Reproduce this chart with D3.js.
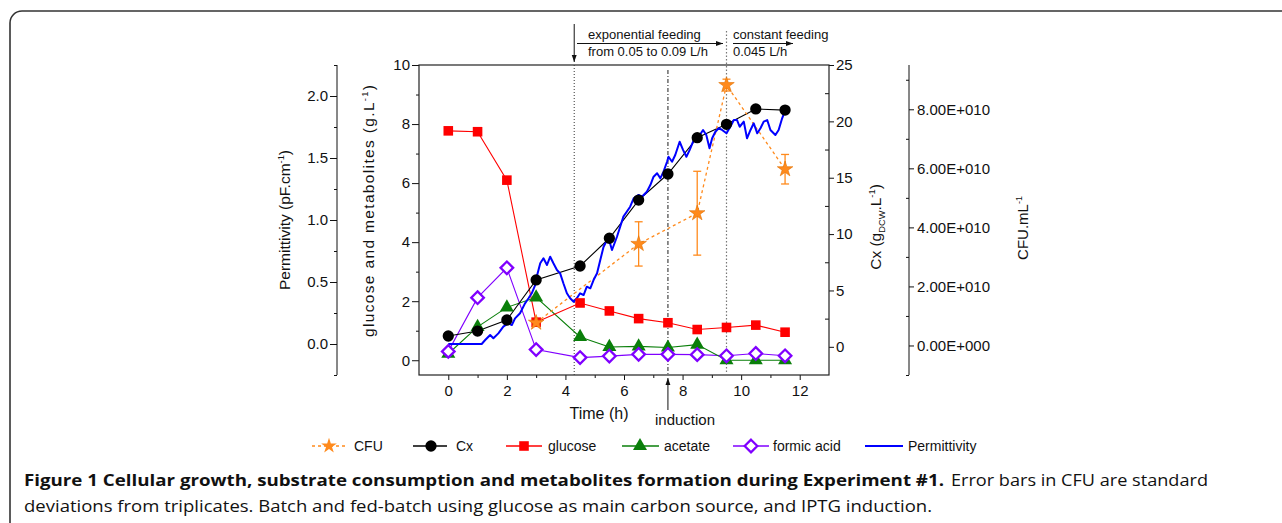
<!DOCTYPE html>
<html><head><meta charset="utf-8">
<script src="https://cdn.jsdelivr.net/npm/d3@7"></script>
<style>
body{margin:0;background:#fff}
svg{display:block}
text{font-family:"Liberation Sans",Arial,Helvetica,sans-serif;fill:#111}
</style>
</head><body>
<svg id="c" width="1282" height="523"></svg>
<script>
// ---------------- data ----------------
const sampleTimes = [0,1,2,3,4.5,5.5,6.5,7.5,8.5,9.5,10.5,11.5];
const cxValues      = [0.96,1.4,2.38,5.93,7.17,9.63,13.02,15.33,18.55,19.74,21.1,21.0];
const glucoseValues = [7.77,7.74,6.10,1.29,1.94,1.67,1.41,1.27,1.04,1.11,1.19,0.95];
const acetateValues = [0.22,1.13,1.79,2.13,0.79,0.45,0.47,0.43,0.53,0.0,0.0,0.0];
const formicValues  = [0.3,2.12,3.13,0.36,0.09,0.14,0.2,0.2,0.19,0.15,0.23,0.15];
const cfuTimes  = [3,6.5,8.5,9.5,11.5];
const cfuValues = [0.77e10,3.44e10,4.48e10,8.82e10,5.97e10];
const cfuErrors = [0,0.75e10,1.42e10,0.2e10,0.5e10];
const permTime = [0,1.14,1.26,1.43,1.54,1.71,1.88,2.05,2.17,2.28,2.45,2.62,2.74,2.85,2.97,3.02,3.14,3.25,3.37,3.48,3.59,3.71,3.82,3.93,4.05,4.16,4.28,4.39,4.50,4.62,4.73,4.85,4.96,5.08,5.19,5.30,5.42,5.50,5.59,5.76,5.98,6.21,6.33,6.50,6.61,6.78,6.90,7.01,7.13,7.24,7.35,7.47,7.52,7.64,7.75,7.90,8.02,8.13,8.24,8.38,8.55,8.70,8.81,8.92,9.01,9.12,9.23,9.35,9.50,9.63,9.75,9.86,9.95,10.09,10.20,10.32,10.43,10.55,10.66,10.77,10.89,11.00,11.17,11.28,11.40,11.51];
const permValue = [0,0,0.032,0.073,0.046,0.086,0.140,0.167,0.153,0.207,0.248,0.328,0.369,0.409,0.476,0.543,0.651,0.691,0.637,0.704,0.651,0.597,0.570,0.490,0.409,0.369,0.341,0.369,0.409,0.395,0.462,0.449,0.516,0.570,0.677,0.782,0.839,0.831,0.758,0.865,1.027,1.107,1.175,1.202,1.188,1.228,1.282,1.349,1.377,1.336,1.390,1.470,1.510,1.470,1.524,1.631,1.564,1.510,1.564,1.645,1.672,1.726,1.685,1.578,1.659,1.712,1.740,1.726,1.699,1.752,1.806,1.806,1.752,1.793,1.659,1.726,1.780,1.699,1.740,1.793,1.806,1.726,1.685,1.726,1.820,1.887];
const xTicks = [0,2,4,6,8,10,12];
const glucoseTicks = [0,2,4,6,8,10];
const permTicks = [0,0.5,1.0,1.5,2.0];
const cxTicks = [0,5,10,15,20,25];
const cfuTicks = [0,2e10,4e10,6e10,8e10];
const cfuTickLabels = ["0.00E+000","2.00E+010","4.00E+010","6.00E+010","8.00E+010"];
const feedStart = 4.3, induction = 7.5, constStart = 9.5;
const legendNames = ["CFU","Cx","glucose","acetate","formic acid","Permittivity"];

// ---------------- setup ----------------
const svg = d3.select("#c");
const L = 419, R = 829, T = 65, B = 375;
const x = d3.scaleLinear().domain([-1,13]).range([L,R]);
const yG = d3.scaleLinear().domain([-0.5,10]).range([B,T]);
const yP = d3.scaleLinear().domain([-0.25,2.25]).range([B,T]);
const yCx = d3.scaleLinear().domain([-2.5,25]).range([B,T]);
const yCFU = d3.scaleLinear().domain([-1e10,9.5e10]).range([B,T]);

const C = {cfu:"#ff8a1c", cx:"#000", glu:"#ff0000", ace:"#0a7f0a", form:"#8000ff", perm:"#0000ff"};

const defs = svg.append("defs");
defs.append("marker").attr("id","ah").attr("viewBox","0 0 10 10").attr("refX",10).attr("refY",5)
  .attr("markerWidth",7).attr("markerHeight",7).attr("markerUnits","userSpaceOnUse").attr("orient","auto")
  .append("path").attr("d","M0,1.5L10,5L0,8.5Z").attr("fill","#111");

// outer rounded frame
svg.append("rect").attr("x",10).attr("y",11).attr("width",1300).attr("height",560).attr("rx",12)
  .attr("fill","none").attr("stroke","#333").attr("stroke-width",1.6);

// ---------------- axes ----------------
function styleAxis(g){ g.select(".domain").remove(); g.selectAll("line").attr("stroke","#111"); g.selectAll("text").attr("fill","#111").style("font-size","15px").style("font-family","'Liberation Sans',Arial,sans-serif"); }
function range(a,b,s){ const r=[]; for(let v=a; v<=b+1e-9; v+=s) r.push(+v.toFixed(6)); return r; }

// x axis
svg.append("g").attr("transform",`translate(0,${B})`)
  .call(d3.axisBottom(x).tickValues(xTicks).tickSize(5).tickPadding(5).tickFormat(d3.format("d"))).call(styleAxis);
svg.append("g").attr("transform",`translate(0,${B})`)
  .call(d3.axisBottom(x).tickValues(range(1,11,2)).tickSize(3).tickFormat("")).call(styleAxis);

// glucose axis (left frame)
svg.append("g").attr("transform",`translate(${L},0)`)
  .call(d3.axisLeft(yG).tickValues(glucoseTicks).tickSize(7).tickPadding(2).tickFormat(d3.format("d"))).call(styleAxis);
svg.append("g").attr("transform",`translate(${L},0)`)
  .call(d3.axisLeft(yG).tickValues(range(1,9,2)).tickSize(3).tickFormat("")).call(styleAxis);

// permittivity axis
const pAx = 337;
svg.append("line").attr("x1",pAx).attr("x2",pAx).attr("y1",T).attr("y2",B).attr("stroke","#111");
svg.append("g").attr("transform",`translate(${pAx},0)`)
  .call(d3.axisLeft(yP).tickValues(permTicks).tickSize(7).tickPadding(2).tickFormat(d3.format(".1f"))).call(styleAxis);
svg.append("g").attr("transform",`translate(${pAx},0)`)
  .call(d3.axisLeft(yP).tickValues(range(-0.25,2.25,0.5)).tickSize(3).tickFormat("")).call(styleAxis);

// Cx axis (right frame)
svg.append("g").attr("transform",`translate(${R},0)`)
  .call(d3.axisRight(yCx).tickValues(cxTicks).tickSize(5).tickPadding(2).tickFormat(d3.format("d"))).call(styleAxis);
svg.append("g").attr("transform",`translate(${R},0)`)
  .call(d3.axisLeft(yCx).tickValues(range(2.5,22.5,5)).tickSize(4).tickFormat("")).call(styleAxis);

// CFU axis
const fAx = 909;
svg.append("line").attr("x1",fAx).attr("x2",fAx).attr("y1",T).attr("y2",B).attr("stroke","#111");
svg.append("g").attr("transform",`translate(${fAx},0)`)
  .call(d3.axisRight(yCFU).tickValues(cfuTicks).tickSize(5).tickPadding(3).tickFormat((d,i)=>cfuTickLabels[i])).call(styleAxis);
svg.append("g").attr("transform",`translate(${fAx},0)`)
  .call(d3.axisLeft(yCFU).tickValues(range(-1e10,9e10,2e10)).tickSize(3).tickFormat("")).call(styleAxis);

// plot frame
svg.append("rect").attr("x",L).attr("y",T).attr("width",R-L).attr("height",B-T)
  .attr("fill","none").attr("stroke","#222").attr("stroke-width",1.2);

// ---------------- axis titles ----------------
function vtitle(cx, cy, parts, size, len){
  const t = svg.append("text").attr("transform",`translate(${cx},${cy}) rotate(-90)`)
    .attr("text-anchor","middle").style("font-size",size+"px");
  if(len) t.attr("textLength",len).attr("lengthAdjust","spacing");
  parts.forEach(p=>{
    const s = t.append("tspan").text(p[0]);
    if(p[1]==="sup") s.attr("dy",-6).style("font-size",(size*0.6)+"px");
    else if(p[1]==="sub") s.attr("dy",4).style("font-size",(size*0.6)+"px");
    else if(p[1]==="back") s.attr("dy",6);
    else if(p[1]==="backsub") s.attr("dy",-4);
  });
  return t;
}
vtitle(290,220,[["Permittivity (pF.cm"],["-1","sup"],[")","back"]],15.5);
vtitle(374,211,[["glucose  and  metabolites  (g.L"],["-1","sup"],[")","back"]],15.5,252);
vtitle(881,227,[["Cx (g"],["DCW","sub"],[".L","backsub"],["-1","sup"],[")","back"]],15.5);
vtitle(1028,228,[["CFU.mL"],["-1","sup"]],15);

svg.append("text").attr("x",599).attr("y",419).attr("text-anchor","middle").style("font-size","16px").text("Time (h)");

// ---------------- annotations ----------------
svg.append("line").attr("x1",x(feedStart)).attr("x2",x(feedStart)).attr("y1",T).attr("y2",B)
  .attr("stroke","#333").attr("stroke-width",1).attr("stroke-dasharray","1,2");
svg.append("line").attr("x1",x(feedStart)).attr("x2",x(feedStart)).attr("y1",24).attr("y2",62)
  .attr("stroke","#111").attr("marker-end","url(#ah)");
svg.append("line").attr("x1",x(constStart)).attr("x2",x(constStart)).attr("y1",31).attr("y2",B)
  .attr("stroke","#777").attr("stroke-width",1.2).attr("stroke-dasharray","1.5,2");
svg.append("line").attr("x1",x(induction)).attr("x2",x(induction)).attr("y1",70).attr("y2",B)
  .attr("stroke","#444").attr("stroke-width",1.2).attr("stroke-dasharray","4,2,1,2");
svg.append("line").attr("x1",x(induction)).attr("x2",x(induction)).attr("y1",410).attr("y2",378)
  .attr("stroke","#111").attr("marker-end","url(#ah)");
svg.append("text").attr("x",685).attr("y",425).attr("text-anchor","middle").style("font-size","15px").text("induction");

svg.append("line").attr("x1",577).attr("x2",723).attr("y1",43.5).attr("y2",43.5).attr("stroke","#111").attr("marker-end","url(#ah)");
svg.append("line").attr("x1",733).attr("x2",793).attr("y1",43.5).attr("y2",43.5).attr("stroke","#111").attr("marker-end","url(#ah)");
svg.append("text").attr("x",588).attr("y",39).style("font-size","13px").text("exponential feeding");
svg.append("text").attr("x",588).attr("y",56).style("font-size","13px").text("from 0.05 to 0.09 L/h");
svg.append("text").attr("x",733).attr("y",39).style("font-size","13px").text("constant feeding");
svg.append("text").attr("x",733).attr("y",56).style("font-size","13px").text("0.045 L/h");

// ---------------- series ----------------
const plot = svg.append("g");
function series(ts, vs, ys){ return ts.map((t,i)=>[x(t), ys(vs[i])]); }
const line = d3.line();

const cxPts = series(sampleTimes,cxValues,yCx);
const gluPts = series(sampleTimes,glucoseValues,yG);
const acePts = series(sampleTimes,acetateValues,yG);
const formPts = series(sampleTimes,formicValues,yG);
const cfuPts = series(cfuTimes,cfuValues,yCFU);
const permPts = series(permTime,permValue,yP);

plot.append("path").attr("d",line(formPts)).attr("fill","none").attr("stroke",C.form).attr("stroke-width",1.1);
plot.append("path").attr("d",line(acePts)).attr("fill","none").attr("stroke",C.ace).attr("stroke-width",1.1);
plot.append("path").attr("d",line(gluPts)).attr("fill","none").attr("stroke",C.glu).attr("stroke-width",1.1);
plot.append("path").attr("d",line(cxPts)).attr("fill","none").attr("stroke",C.cx).attr("stroke-width",1.1);
plot.append("path").attr("d",line(cfuPts)).attr("fill","none").attr("stroke",C.cfu).attr("stroke-width",1.3).attr("stroke-dasharray","3,3");
// error bars
cfuTimes.forEach((t,i)=>{
  if(!cfuErrors[i]) return;
  const xx = x(t), y1 = yCFU(cfuValues[i]-cfuErrors[i]), y2 = yCFU(cfuValues[i]+cfuErrors[i]);
  plot.append("line").attr("x1",xx).attr("x2",xx).attr("y1",y1).attr("y2",y2).attr("stroke",C.cfu).attr("stroke-width",1.3);
  [y1,y2].forEach(yy=>plot.append("line").attr("x1",xx-4).attr("x2",xx+4).attr("y1",yy).attr("y2",yy).attr("stroke",C.cfu).attr("stroke-width",1.3));
});
plot.append("path").attr("d",line(permPts)).attr("fill","none").attr("stroke",C.perm).attr("stroke-width",2).attr("stroke-linejoin","round");

const sCircle = d3.symbol(d3.symbolCircle,100)();
const sSquare = d3.symbol(d3.symbolSquare,92)();
const sTri = d3.symbol(d3.symbolTriangle,85)();
const sStar = d3.symbol(d3.symbolStar,75)();
const sDiamond = "M0,-6.3L6.3,0L0,6.3L-6.3,0Z";

function markers(pts, path, fill, stroke, sw){
  plot.selectAll(null).data(pts).enter().append("path").attr("d",path)
    .attr("transform",d=>`translate(${d[0]},${d[1]})`)
    .attr("fill",fill).attr("stroke",stroke||"none").attr("stroke-width",sw||0);
}
markers(gluPts,sSquare,C.glu);
markers(acePts,sTri,C.ace);
markers(formPts,sDiamond,"#fff",C.form,2.3);
markers(cxPts,sCircle,C.cx);
markers(cfuPts,sStar,C.cfu,"#e07000",0.6);

// ---------------- legend ----------------
const lg = svg.append("g");
const ly = 446;
const items = [
  {x1:312,x2:346,m:329,tx:354,col:C.cfu,dash:"3,3",sym:sStar,fill:C.cfu},
  {x1:413,x2:447,m:431,tx:456,col:C.cx,sym:sCircle,fill:C.cx},
  {x1:506,x2:542,m:524,tx:548,col:C.glu,sym:sSquare,fill:C.glu},
  {x1:622,x2:659,m:640,tx:664,col:C.ace,sym:sTri,fill:C.ace},
  {x1:733,x2:769,m:751,tx:773,col:C.form,sym:sDiamond,fill:"#fff",stroke:C.form},
  {x1:865,x2:903,m:null,tx:908,col:C.perm,w:2}
];
items.forEach((it,i)=>{
  lg.append("line").attr("x1",it.x1).attr("x2",it.x2).attr("y1",ly).attr("y2",ly)
    .attr("stroke",it.col).attr("stroke-width",it.w||1.3).attr("stroke-dasharray",it.dash||null);
  if(it.m!==null) lg.append("path").attr("d",it.sym).attr("transform",`translate(${it.m},${ly})`)
    .attr("fill",it.fill).attr("stroke",it.stroke||"none").attr("stroke-width",it.stroke?2.3:0);
  lg.append("text").attr("x",it.tx).attr("y",ly+5).style("font-size","14px").text(legendNames[i]);
});

// ---------------- caption ----------------
svg.append("text").attr("x",24).attr("y",486).attr("textLength",920).attr("lengthAdjust","spacingAndGlyphs")
  .style("font-family","'Open Sans',sans-serif").style("font-weight","bold").style("font-size","16.5px").attr("fill","#1a1a1a")
  .text("Figure 1 Cellular growth, substrate consumption and metabolites formation during Experiment #1.");
svg.append("text").attr("x",951).attr("y",486).attr("textLength",257).attr("lengthAdjust","spacingAndGlyphs")
  .style("font-family","'Open Sans',sans-serif").style("font-size","16.5px").attr("fill","#333")
  .text("Error bars in CFU are standard");
svg.append("text").attr("x",24).attr("y",512).attr("textLength",908).attr("lengthAdjust","spacingAndGlyphs")
  .style("font-family","'Open Sans',sans-serif").style("font-size","16.5px").attr("fill","#333")
  .text("deviations from triplicates. Batch and fed-batch using glucose as main carbon source, and IPTG induction.");
</script>
</body></html>
